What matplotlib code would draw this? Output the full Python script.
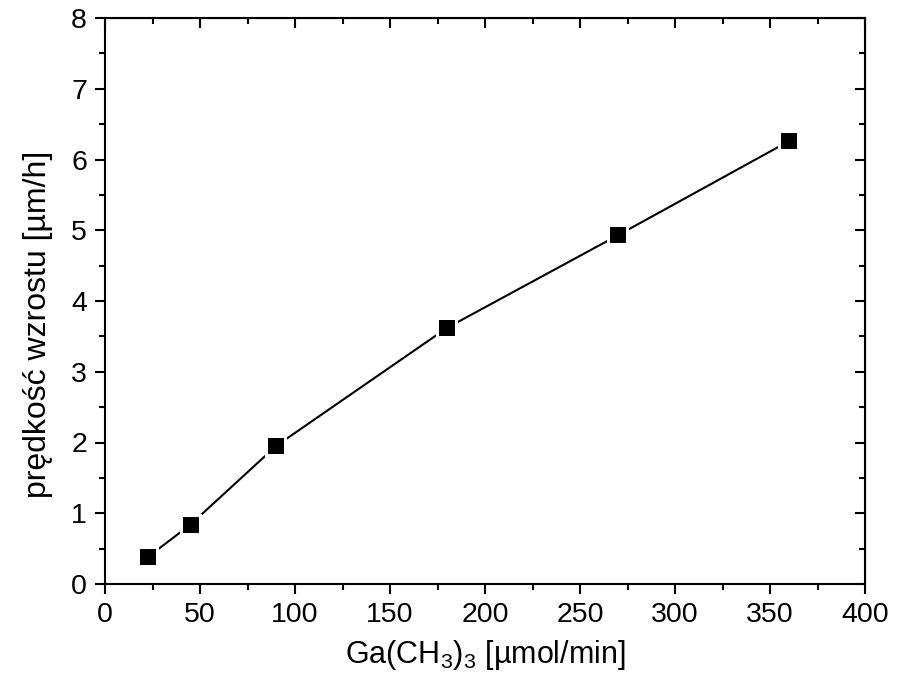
import matplotlib
matplotlib.use('Agg')
import matplotlib.pyplot as plt
from matplotlib.ticker import MultipleLocator

plt.rcParams['font.family'] = ['Liberation Sans', 'DejaVu Sans']
plt.rcParams['mathtext.fontset'] = 'custom'
plt.rcParams['mathtext.rm'] = 'Liberation Sans'
plt.rcParams['mathtext.it'] = 'Liberation Sans:italic'

# TMGa flow vs growth rate
flow = [22.5, 45, 90, 180, 270, 360]
rate = [0.38, 0.84, 1.95, 3.62, 4.93, 6.26]

fig = plt.figure(figsize=(8.97, 6.93), dpi=100)
ax = fig.add_axes([105 / 897, 1 - 584 / 693, 760 / 897, 566 / 693])

ax.plot(flow, rate, color='black', lw=1.5, zorder=2)
ax.plot(flow, rate, 's', color='white', ms=15.5, mew=0, zorder=3)
ax.plot(flow, rate, 's', color='black', ms=11.5, mew=0, zorder=4)

ax.set_xlim(0, 400)
ax.set_ylim(0, 8)
ax.xaxis.set_major_locator(MultipleLocator(50))
ax.xaxis.set_minor_locator(MultipleLocator(25))
ax.yaxis.set_major_locator(MultipleLocator(1))
ax.yaxis.set_minor_locator(MultipleLocator(0.5))

for s in ax.spines.values():
    s.set_linewidth(1.5)

ax.tick_params(which='both', direction='out', width=1.5, labelsize=20.5, pad=6)
ax.tick_params(which='major', length=7)
ax.tick_params(which='minor', length=4)

# inward ticks on top and right
axt = ax.secondary_xaxis('top')
axt.xaxis.set_major_locator(MultipleLocator(50))
axt.xaxis.set_minor_locator(MultipleLocator(25))
axt.tick_params(which='both', direction='in', width=1.5, labeltop=False)
axt.tick_params(which='major', length=7)
axt.tick_params(which='minor', length=4)
axr = ax.secondary_yaxis('right')
axr.yaxis.set_major_locator(MultipleLocator(1))
axr.yaxis.set_minor_locator(MultipleLocator(0.5))
axr.tick_params(which='both', direction='in', width=1.5, labelright=False)
axr.tick_params(which='major', length=7)
axr.tick_params(which='minor', length=4)

ax.set_xlabel(r'Ga(CH$_3$)$_3$ [µmol/min]', fontsize=22, labelpad=7)
ax.set_ylabel('prędkość wzrostu [µm/h]', fontsize=23)
ax.yaxis.set_label_coords(-0.068, 0.459)

fig.savefig('out.png', dpi=100)
